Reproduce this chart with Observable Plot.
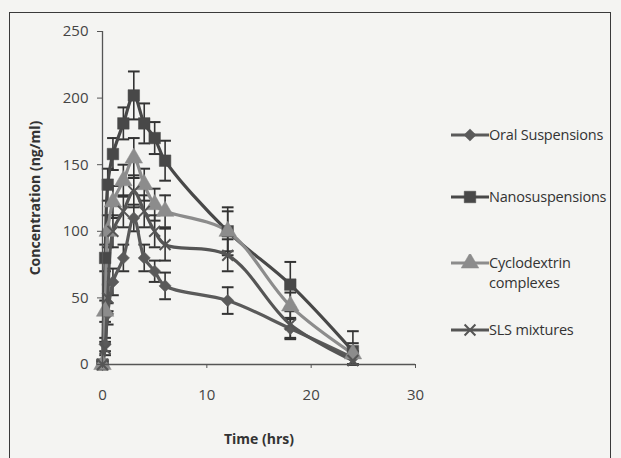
<!DOCTYPE html>
<html>
<head>
<meta charset="utf-8">
<script src="https://cdn.jsdelivr.net/npm/d3@7"></script>
<script src="https://cdn.jsdelivr.net/npm/@observablehq/plot@0.6"></script>
<style>
  html, body { margin: 0; padding: 0; background: #f4f4f2; }
  #wrap { position: relative; width: 621px; height: 458px; overflow: hidden; font-family: "Open Sans", "Liberation Sans", sans-serif; }
  #frame { position: absolute; left: 9px; top: 12px; width: 602px; height: 470px; border: 1.5px solid #3a3a3a; box-sizing: border-box; }
  #chart { position: absolute; left: 0; top: 0; }
  #chart svg text { font-size: 15px !important; fill: #444; }
  #chart svg .axlabel text, #chart svg text.axlabel { font-weight: bold; fill: #333; font-size: 14px !important; }
  .leg { position: absolute; left: 450px; display: flex; align-items: flex-start; font-size: 14.5px; color: #333; line-height: 20px; letter-spacing: -0.2px; }
  .leg svg { flex: none; margin-top: 1px; }
</style>
</head>
<body>
<div id="wrap">
  <div id="frame"></div>
  <div id="chart"></div>
  <div id="legend"></div>
</div>
<script>
const times = [0, 0.25, 0.5, 1, 2, 3, 4, 5, 6, 12, 18, 24];
const seriesNames = ["Oral Suspensions", "Nanosuspensions", "Cyclodextrin complexes", "SLS mixtures"];
const oral = [0, 15, 38, 62, 80, 110, 80, 70, 59, 48, 27, 5];
const oralErr = [2, 5, 8, 10, 10, 10, 10, 8, 10, 10, 8, 5];
const nano = [0, 80, 135, 158, 181, 202, 181, 170, 153, 100, 60, 10];
const nanoErr = [3, 10, 12, 12, 12, 18, 15, 12, 15, 18, 17, 15];
const cyclo = [0, 40, 100, 122, 138, 155, 135, 120, 115, 100, 44, 8];
const cycloErr = [3, 8, 12, 12, 12, 15, 12, 12, 12, 15, 10, 8];
const sls = [0, 12, 50, 100, 115, 130, 115, 100, 90, 82, 30, 3];
const slsErr = [2, 5, 10, 12, 12, 12, 12, 12, 12, 12, 10, 5];
const xTicks = [0, 10, 20, 30];
const yTicks = [0, 50, 100, 150, 200, 250];

const styles = [
  {name: seriesNames[0], values: oral, err: oralErr, color: "#5a5a5a", symbol: "diamond2", r: 5.5, fill: true},
  {name: seriesNames[1], values: nano, err: nanoErr, color: "#484848", symbol: "square", r: 6.5, fill: true},
  {name: seriesNames[2], values: cyclo, err: cycloErr, color: "#8c8c8c", symbol: "triangle", r: 6.5, fill: true},
  {name: seriesNames[3], values: sls, err: slsErr, color: "#555555", symbol: "times", r: 5, fill: false}
];

const rows = styles.flatMap((s, si) => times.map((t, i) => ({
  series: s.name, si, t, v: s.values[i], lo: Math.max(0, s.values[i] - s.err[i]), hi: s.values[i] + s.err[i]
})));

const cap = {draw(ctx, size) { const w = Math.sqrt(size); ctx.moveTo(-w, 0); ctx.lineTo(w, 0); }};

const marks = [];
marks.push(Plot.ruleX(rows, {x: "t", y1: "lo", y2: "hi", stroke: "#333", strokeWidth: 1.6}));
marks.push(Plot.dot(rows, {x: "t", y: "hi", symbol: cap, r: 3.3, stroke: "#333", strokeWidth: 2}));
marks.push(Plot.dot(rows, {x: "t", y: "lo", symbol: cap, r: 3.3, stroke: "#333", strokeWidth: 2}));
styles.forEach((s, si) => {
  const d = rows.filter(r => r.si === si);
  marks.push(Plot.line(d, {x: "t", y: "v", stroke: s.color, strokeWidth: 3.2, curve: "catmull-rom"}));
});
styles.forEach((s, si) => {
  const d = rows.filter(r => r.si === si);
  marks.push(Plot.dot(d, {x: "t", y: "v", symbol: s.symbol, r: s.r,
    fill: s.fill ? s.color : "none", stroke: s.color, strokeWidth: s.fill ? 0.5 : 2}));
});
marks.push(Plot.ruleX([0], {stroke: "#555", strokeWidth: 1.3}));
marks.push(Plot.ruleY([0], {stroke: "#555", strokeWidth: 1.3}));
marks.push(Plot.axisY(yTicks, {tickSize: 5, tickPadding: 9, stroke: "#555", fill: "#444",
  label: "Concentration (ng/ml)", labelAnchor: "center", labelArrow: "none", labelOffset: 72}));
marks.push(Plot.axisX(xTicks, {tickSize: 4, tickPadding: 21, stroke: "#555", fill: "#444",
  label: "Time (hrs)", labelAnchor: "center", labelArrow: "none", labelOffset: 79}));

const chart = Plot.plot({
  width: 621, height: 458,
  marginLeft: 102, marginRight: 206, marginTop: 31, marginBottom: 94,
  x: {domain: [0, 30]},
  y: {domain: [0, 250]},
  style: {background: "transparent", fontSize: "15px", fontFamily: "'Open Sans', 'Liberation Sans', sans-serif", overflow: "visible"},
  marks
});
// mark axis-title text elements for bold styling
chart.querySelectorAll("text").forEach(t => {
  if (t.textContent === "Concentration (ng/ml)" || t.textContent === "Time (hrs)") t.classList.add("axlabel");
});
document.getElementById("chart").appendChild(chart);

const legendTops = [125, 187, 253, 320];
const legend = document.getElementById("legend");
const symMap = {diamond2: d3.symbolDiamond2, square: d3.symbolSquare, triangle: d3.symbolTriangle, times: d3.symbolTimes};
styles.forEach((s, i) => {
  const div = document.createElement("div");
  div.className = "leg";
  div.style.top = legendTops[i] + "px";
  const sym = d3.symbol().type(symMap[s.symbol]).size(Math.PI * s.r * s.r)();
  div.innerHTML = `<svg width="39" height="18"><line x1="1" x2="39" y1="9" y2="9" stroke="${s.color}" stroke-width="3.2"/>` +
    `<path d="${sym}" transform="translate(20,9)" fill="${s.fill ? s.color : "none"}" stroke="${s.color}" stroke-width="${s.fill ? 0.5 : 2}"/></svg>` +
    `<span>${s.name === "Cyclodextrin complexes" ? "Cyclodextrin<br>complexes" : s.name}</span>`;
  legend.appendChild(div);
});
</script>
</body>
</html>
